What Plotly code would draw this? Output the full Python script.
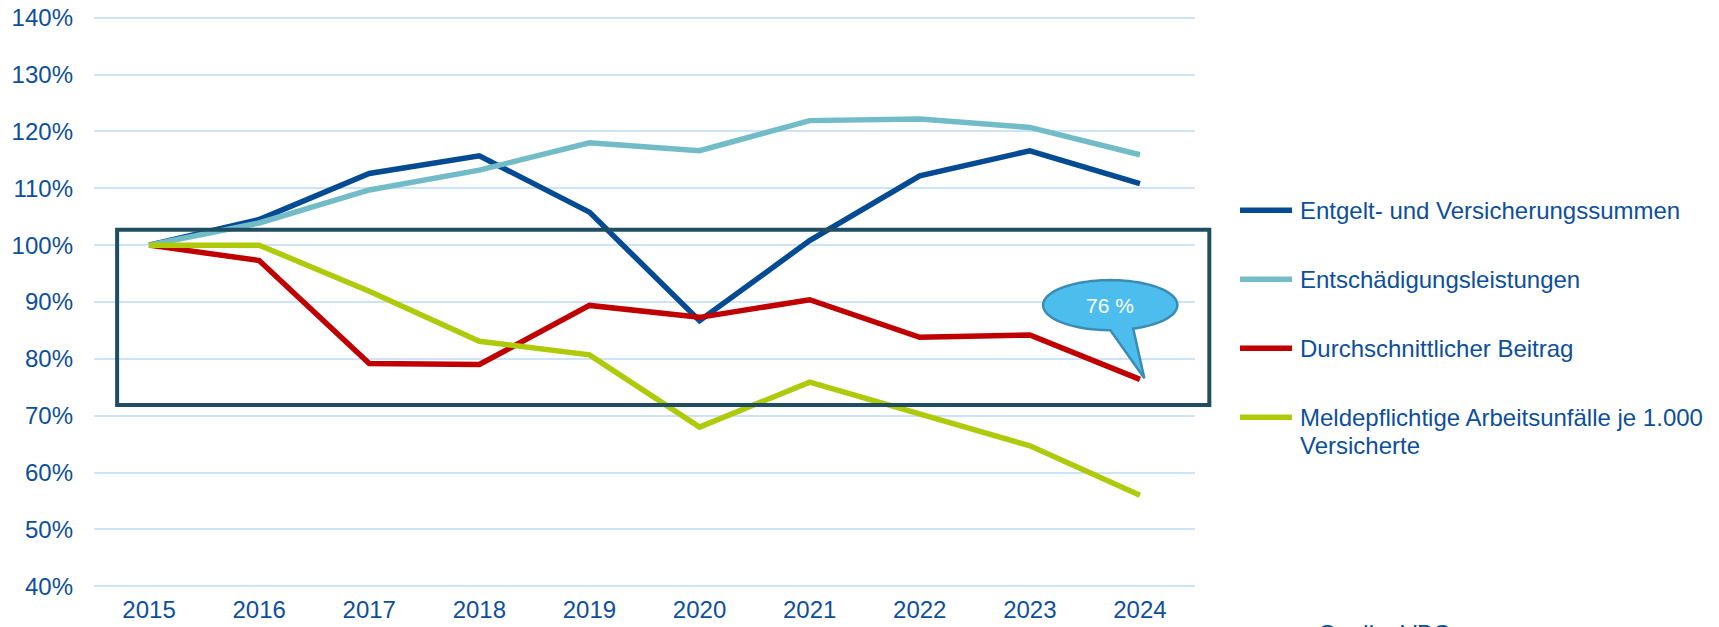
import numpy as np
import plotly.graph_objects as go

# values in % of 2015
years = [2015, 2016, 2017, 2018, 2019, 2020, 2021, 2022, 2023, 2024]
entgelt = [100, 104.5, 112.6, 115.7, 105.8, 86.7, 100.8, 112.2, 116.6, 110.8]
entschaedigung = [100, 103.9, 109.7, 113.2, 118.0, 116.6, 121.9, 122.2, 120.7, 115.9]
beitrag = [100, 97.3, 79.2, 79.0, 89.4, 87.3, 90.4, 83.8, 84.2, 76.4]
unfaelle = [100, 100, 91.9, 83.1, 80.7, 68.0, 75.9, 70.3, 64.7, 56.0]

series_names = [
    "Entgelt- und Versicherungssummen",
    "Entschädigungsleistungen",
    "Durchschnittlicher Beitrag",
    "Meldepflichtige Arbeitsunfälle je 1.000<br>Versicherte",
]
series_colors = ["#044B93", "#72BCC8", "#C00000", "#AFCA0B"]
y_ticks = [40, 50, 60, 70, 80, 90, 100, 110, 120, 130, 140]
callout_label = "76 %"
source_label = "Quelle: VBG"

TXT = "#0D4F9C"
FONT = "Arial, Liberation Sans, sans-serif"
X_RANGE = [2014.5, 2024.5]
# a bit of padding so the 40% / 140% gridlines are not dropped at the edges
Y_RANGE = [39.7, 140.3]

# page body has an 8px margin, so the figure is 8px smaller than the window
W, H = 1711, 619
L, R, T, B = 86, 524, 7.8, 39.3
PW, PH = W - L - R, H - T - B


def px(x):
    return (x - X_RANGE[0]) / (X_RANGE[1] - X_RANGE[0])


def py(y):
    return (y - Y_RANGE[0]) / (Y_RANGE[1] - Y_RANGE[0])


def pix_x(v):  # window pixel -> paper
    return (v - 8 - L) / PW


def pix_y(v):
    return (H - B + 8 - v) / PH


fig = go.Figure()
for name, vals, col in zip(series_names, [entgelt, entschaedigung, beitrag, unfaelle], series_colors):
    fig.add_trace(go.Scatter(x=years, y=vals, name=name, mode="lines",
                             line=dict(color=col, width=5.5), showlegend=False))

# highlight box
fig.add_shape(type="rect", xref="paper", yref="paper",
              x0=px(2014.71), x1=px(2024.63), y0=py(71.9), y1=py(102.7),
              line=dict(color="#1F4E63", width=4), layer="above")

# speech bubble pointing at last Beitrag value
cx, cy, rx, ry = 2023.73, 89.45, 0.61, 4.4
tip_x, tip_y = years[-1] + 0.04, beitrag[-1] + 0.2
ang = np.deg2rad(np.arange(-70, 271, 4))
pts = [(cx + rx * np.cos(a), cy + ry * np.sin(a)) for a in ang]
pts.append((cx, cy - ry))
path = "M {},{} ".format(tip_x, tip_y)
path += " ".join("L {:.4f},{:.4f}".format(x, y) for x, y in pts) + " Z"
fig.add_shape(type="path", path=path, xref="x", yref="y",
              fillcolor="#4DBDEE", line=dict(color="#3A8CB5", width=2.5), layer="above")
fig.add_annotation(x=cx, y=cy, text=callout_label, showarrow=False,
                   font=dict(color="white", size=21, family=FONT))

# manual legend on the right
leg_y = [210, 279, 348, 417]
for name, col, yy in zip(series_names, series_colors, leg_y):
    fig.add_shape(type="line", xref="paper", yref="paper",
                  x0=pix_x(1240), x1=pix_x(1292), y0=pix_y(yy), y1=pix_y(yy),
                  line=dict(color=col, width=5.5))
    for i, part in enumerate(name.split("<br>")):
        fig.add_annotation(xref="paper", yref="paper", x=pix_x(1298),
                           y=pix_y(yy + 28 * i), text=part, showarrow=False,
                           xanchor="left", yanchor="middle",
                           font=dict(color=TXT, size=24, family=FONT))

fig.add_annotation(xref="paper", yref="paper", x=pix_x(1316), y=pix_y(633),
                   text=source_label, showarrow=False, xanchor="left", yanchor="middle",
                   font=dict(color=TXT, size=24, family=FONT))

fig.update_xaxes(range=X_RANGE, tickvals=years, ticktext=[str(y) for y in years],
                 showgrid=False, zeroline=False, showline=False, automargin=False,
                 tickfont=dict(color=TXT, size=24, family=FONT), ticklabelstandoff=5)
fig.update_yaxes(range=Y_RANGE, tickvals=y_ticks, ticktext=[f"{v}%" for v in y_ticks],
                 showgrid=True, gridcolor="#CDE3F8", gridwidth=2, zeroline=False, automargin=False,
                 ticklabeloverflow="allow",
                 tickfont=dict(color=TXT, size=24, family=FONT), ticklabelstandoff=20)
fig.update_layout(width=W, height=H, plot_bgcolor="white", paper_bgcolor="white",
                  margin=dict(l=L, r=R, t=T, b=B), showlegend=False)

fig.write_html("out.html")
